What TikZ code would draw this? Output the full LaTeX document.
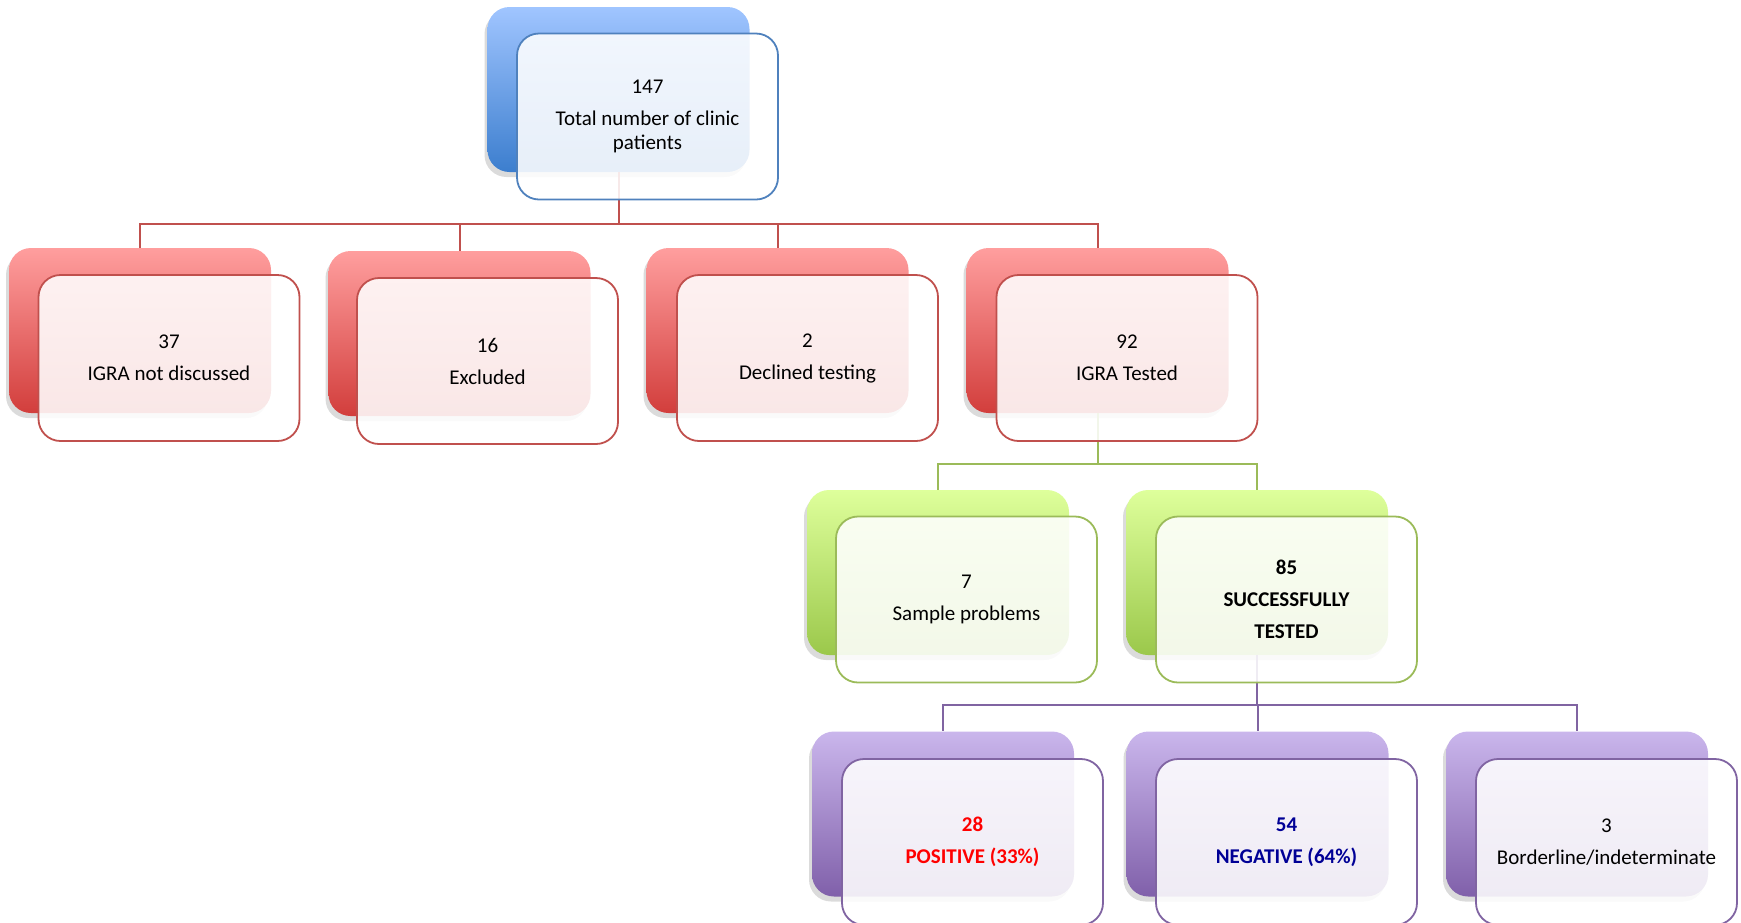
\documentclass[tikz,border=0pt]{standalone}
\usepackage{fontspec}
\setmainfont{Carlito}
\usetikzlibrary{shadows}
\definecolor{bluetop}{RGB}{160,197,255}
\definecolor{bluebot}{RGB}{60,126,206}
\definecolor{blueline}{RGB}{79,129,189}
\definecolor{redtop}{RGB}{255,158,158}
\definecolor{redbot}{RGB}{210,62,60}
\definecolor{redline}{RGB}{192,80,77}
\definecolor{greentop}{RGB}{222,255,155}
\definecolor{greenbot}{RGB}{155,200,75}
\definecolor{greenline}{RGB}{155,187,89}
\definecolor{purptop}{RGB}{202,182,236}
\definecolor{purpbot}{RGB}{128,96,170}
\definecolor{purpline}{RGB}{128,100,162}
\definecolor{posred}{RGB}{255,0,0}
\definecolor{negblue}{RGB}{0,0,150}
\tikzset{
  backbox/.style={rounded corners=22pt, minimum width=262pt, minimum height=165pt,
    inner sep=0pt, draw=none,
    drop shadow={shadow xshift=-3pt, shadow yshift=-5pt, opacity=0.2, fill=black!70}},
  bblue/.style={backbox, top color=bluetop, bottom color=bluebot},
  bred/.style={backbox, top color=redtop, bottom color=redbot},
  bgreen/.style={backbox, top color=greentop, bottom color=greenbot},
  bpurp/.style={backbox, top color=purptop, bottom color=purpbot},
  frontbox/.style={rounded corners=22pt, minimum width=261pt, minimum height=166pt,
    inner sep=0pt, fill=white, fill opacity=0.88, text opacity=1, line width=1.8pt,
    align=center, font=\fontsize{21}{24}\selectfont},
  fblue/.style={frontbox, draw=blueline},
  fred/.style={frontbox, draw=redline},
  fgreen/.style={frontbox, draw=greenline},
  fpurp/.style={frontbox, draw=purpline},
  conn/.style={line width=2pt},
}
\begin{document}
\begin{tikzpicture}[x=1pt,y=-1pt]
\useasboundingbox (0,0) rectangle (1741,922);
\clip (0,0) rectangle (1741,922);
% back boxes
\node[bblue]  (b0) at (618.5,89.5) {};
\node[bred]   (b1) at (140,330.5) {};
\node[bred]   (b2) at (459.5,333.5) {};
\node[bred]   (b3) at (777.5,330.5) {};
\node[bred]   (b4) at (1097.5,330.5) {};
\node[bgreen] (b5) at (938,572.5) {};
\node[bgreen] (b6) at (1257,572.5) {};
\node[bpurp]  (b7) at (943,814) {};
\node[bpurp]  (b8) at (1257.5,814) {};
\node[bpurp]  (b9) at (1577,814) {};
% junctions
\coordinate (j0) at (618.5,224);
\coordinate (j4) at (1097.5,464);
\coordinate (j6) at (1257,705);
% connectors
\draw[conn, redline] (b0.south) -- (j0) -| (b1.north);
\draw[conn, redline] (j0) -| (b2.north);
\draw[conn, redline] (j0) -| (b3.north);
\draw[conn, redline] (j0) -| (b4.north);
\draw[conn, greenline] (b4.south) -- (j4) -| (b5.north);
\draw[conn, greenline] (j4) -| (b6.north);
\draw[conn, purpline] (b6.south) -- (j6) -| (b7.north);
\draw[conn, purpline] (j6) -| (b8.north);
\draw[conn, purpline] (j6) -| (b9.north);
% front boxes
\node[fblue]  (f0) at (647.5,116.5) {147\\[8pt]Total number of clinic\\patients};
\node[fred]   (f1) at (169,358) {37\\[8pt]IGRA not discussed};
\node[fred]   (f2) at (487.5,361) {16\\[8pt]Excluded};
\node[fred]   (f3) at (807.5,358) {2\\[8pt]Declined testing};
\node[fred]   (f4) at (1127,358) {92\\[8pt]IGRA Tested};
\node[fgreen] (f5) at (966.5,599.5) {7\\[8pt]Sample problems};
\node[fgreen] (f6) at (1286.5,599.5) {\bfseries 85\\[8pt]\bfseries SUCCESSFULLY\\[8pt]\bfseries TESTED};
\node[fpurp]  (f7) at (972.5,842) {\color{posred}\bfseries 28\\[8pt]\color{posred}\bfseries POSITIVE (33\%)};
\node[fpurp]  (f8) at (1286.5,842) {\color{negblue}\bfseries 54\\[8pt]\color{negblue}\bfseries NEGATIVE (64\%)};
\node[fpurp]  (f9) at (1606.5,842) {3\\[8pt]Borderline/indeterminate};
\end{tikzpicture}
\end{document}
